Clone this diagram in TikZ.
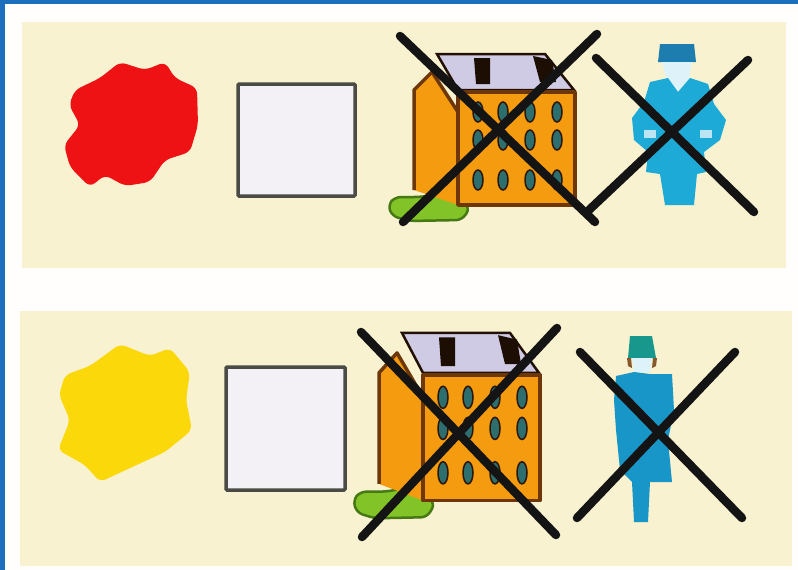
\documentclass[tikz,border=0pt]{standalone}
\definecolor{panel}{RGB}{248,242,208}
\definecolor{frameblue}{RGB}{30,110,190}
\definecolor{wall}{RGB}{245,155,15}
\definecolor{wallline}{RGB}{110,55,10}
\definecolor{roofc}{RGB}{208,203,228}
\definecolor{bushc}{RGB}{130,195,40}
\definecolor{bushl}{RGB}{70,120,20}
\definecolor{winc}{RGB}{45,110,110}
\definecolor{scrubA}{RGB}{30,170,215}
\definecolor{scrubB}{RGB}{25,150,200}
\definecolor{capc}{RGB}{30,125,175}
\definecolor{sqfill}{RGB}{243,241,246}
\definecolor{sqline}{RGB}{75,75,70}
\definecolor{blobred}{RGB}{238,18,20}
\definecolor{blobyellow}{RGB}{250,216,10}
\tikzset{
  crossline/.style={line width=8.5pt,line cap=round,color=black!92},
  sq/.style={draw=sqline,line width=3.5pt,fill=sqfill,rounded corners=1pt},
  win/.style={fill=winc,draw=black!60!wallline,line width=1.5pt},
  bld/.style={draw=wallline,line width=3.5pt,line join=round}
}
\newcommand{\buildingshape}{%
  \fill[bushc,draw=bushl,line width=2.5pt,rounded corners=6pt]
    (388,205)--(395,197)--(420,197)--(440,194)--(456,196)--(470,208)--(462,220)--(410,221)--(392,216)--cycle;
  \fill[roofc,draw=black!70!wallline,line width=2.5pt] (437,54)--(545,54)--(574,90)--(458,90)--cycle;
  \fill[black!75!wallline] (474,58)--(490,58)--(490,84)--(476,84)--cycle;
  \fill[black!75!wallline] (533,56)--(552,60)--(556,82)--(540,82)--cycle;
  \fill[wall] (414,90)--(432,72)--(458,112)--(458,205)--(414,190)--cycle;
  \draw[bld] (414,190)--(414,90)--(432,72)--(458,112)--(458,205);
  \fill[wall,bld] (458,92)--(575,92)--(575,205)--(458,205)--cycle;
  \foreach \xx in {478,503,530,557}{
    \foreach \yy in {112,140,180}{
      \fill[win] (\xx,\yy) ellipse[x radius=5,y radius=10];
    }
  }
}
\begin{document}
\begin{tikzpicture}[x=1pt,y=-1pt]
\useasboundingbox (0,0) rectangle (798,570);
\fill[white!97!panel] (0,0) rectangle (798,570);
\fill[panel] (22,22) rectangle (786,268);
\fill[panel] (20,311) rectangle (792,566);
\fill[frameblue] (0,0) rectangle (798,3.5);
\fill[frameblue] (0,0) rectangle (5,570);
% blobs
\fill[blobred,rounded corners=6pt]
  (75,90)--(100,78)--(120,62)--(145,70)--(165,62)--(175,78)--(197,88)--(198,125)--(190,152)--(165,160)--(150,182)--(125,186)--(105,175)--(90,187)--(70,167)--(64,145)--(80,125)--(69,105)--cycle;
\fill[blobyellow,rounded corners=6pt]
  (65,375)--(90,366)--(120,344)--(150,356)--(170,348)--(190,372)--(186,400)--(192,430)--(165,452)--(130,468)--(100,482)--(85,465)--(58,450)--(70,420)--(59,395)--cycle;
% squares
\draw[sq] (238,84) rectangle (355,196);
\draw[sq] (226,367) rectangle (345,490);
% buildings
\begin{scope}\buildingshape\end{scope}
\begin{scope}[shift={(-35,273)},yscale=1.11]\buildingshape\end{scope}
% person top
\fill[capc] (660,44)--(694,44)--(696,62)--(658,62)--cycle;
\fill[white!85!scrubA] (662,62)--(692,62)--(688,84)--(678,92)--(668,84)--cycle;
\fill[scrubA] (650,82)--(668,78)--(678,92)--(690,78)--(708,84)--(714,104)--(726,120)--(720,140)--(704,152)--(706,172)--(697,174)--(694,205)--(665,205)--(660,174)--(646,172)--(648,152)--(634,140)--(632,118)--(644,102)--cycle;
\fill[white!70!scrubA] (644,130) rectangle (656,138);
\fill[white!70!scrubA] (700,130) rectangle (712,138);
% person bottom
\fill[capc!80!green] (630,336)--(652,336)--(656,358)--(628,358)--cycle;
\fill[white!85!scrubA] (632,358)--(652,358)--(650,372)--(634,372)--cycle;
\fill[brown!70!black] (627,358)--(631,358)--(632,368)--(628,366)--cycle;
\fill[brown!70!black] (653,358)--(657,358)--(656,366)--(652,368)--cycle;
\fill[scrubB] (616,376)--(634,372)--(650,374)--(672,374)--(674,410)--(668,440)--(672,482)--(650,482)--(648,522)--(634,522)--(632,482)--(620,470)--(616,430)--(614,400)--cycle;
% crosses
\draw[crossline] (400,36)--(595,222);
\draw[crossline] (597,34)--(403,222);
\draw[crossline] (596,58)--(754,212);
\draw[crossline] (748,60)--(589,210);
\draw[crossline] (361,332)--(556,535);
\draw[crossline] (557,328)--(362,537);
\draw[crossline] (580,352)--(742,518);
\draw[crossline] (735,352)--(577,518);
\end{tikzpicture}
\end{document}
